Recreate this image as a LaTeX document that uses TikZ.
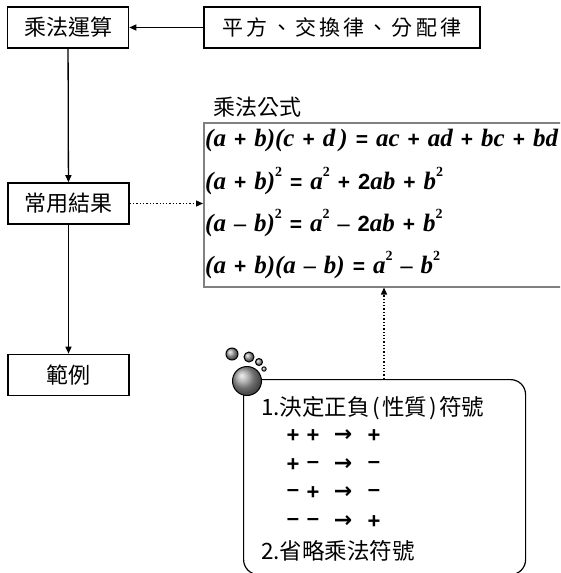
\documentclass[tikz,border=0pt]{standalone}
\usepackage{fontspec}
\setmainfont{Liberation Serif}
\newfontfamily\cjk{Noto Sans CJK TC}
\newfontfamily\cjkw[LetterSpace=15]{Noto Sans CJK TC}
\newfontfamily\tms{Liberation Serif}
\newfontfamily\ars{Liberation Sans}
\newfontfamily\dvs{DejaVu Sans}
\usetikzlibrary{arrows.meta}
\newcommand\mv[1]{{\fontsize{25}{28}\selectfont\tms\bfseries\itshape #1}}
\newcommand\mo[1]{\hspace{8pt}{\fontsize{21}{24}\selectfont\ars\bfseries #1}\hspace{8pt}}
\newcommand\mtwo{{\fontsize{22}{24}\selectfont\ars\bfseries 2}}
\newcommand\msq{\raisebox{12.5pt}{\fontsize{14}{14}\selectfont\tms\bfseries 2}}
\newcommand\mminus{\hspace{8pt}{\fontsize{24}{26}\selectfont\tms\bfseries –}\hspace{8pt}}
\newcommand\lp{\hspace{2.5pt}(\hspace{2pt}}
\newcommand\rp{\hspace{2pt})\hspace{2.5pt}}
\tikzset{
  box/.style={draw, line width=1.6pt, minimum width=121pt, minimum height=41pt, inner sep=0pt,
    font=\fontsize{22}{24}\selectfont\cjk},
  solidarrow/.style={line width=1.3pt, -{Triangle[length=7pt,width=6pt]}},
  dotarrow/.style={line width=1.3pt, dotted, -{Triangle[length=7pt,width=6pt]}},
  formula/.style={anchor=base west, inner sep=0pt},
  ctext/.style={anchor=west, inner sep=0pt, font=\fontsize{22.5}{24}\selectfont\cjk},
  sign/.style={inner sep=0pt, font=\fontsize{22}{24}\selectfont\ars\bfseries},
  arr/.style={inner sep=0pt, font=\fontsize{22}{24}\selectfont\dvs\bfseries},
  bubble/.style={circle, draw=black, line width=1pt, ball color=gray!75, inner sep=0pt},
}
\begin{document}
\begin{tikzpicture}[x=1pt,y=-1pt]
\useasboundingbox (0,0) rectangle (560,573);
\clip (0,0) rectangle (560,573);
% boxes
\node[box] (mul) at (68,27.5) {乘法運算};
\node[box, minimum width=276pt, font=\fontsize{21}{24}\selectfont\cjkw] (laws) at (342,27.5) {平方、交換律、分配律};
\node[box] (res) at (68.5,203.5) {常用結果};
\node[box] (ex) at (68.5,375) {範例};
\draw[solidarrow] (laws) -- (mul);
\draw[solidarrow] (mul) -- (res);
\draw[solidarrow] (res) -- (ex);
% formula box
\node[anchor=south west, inner sep=0pt, font=\fontsize{22}{24}\selectfont\cjk] (ftitle) at (213,118) {乘法公式};
\node[draw=gray, line width=1.5pt, anchor=north west, minimum width=420pt, minimum height=164pt, inner sep=0pt] (fbox) at (203,122) {};
\node[formula] (f1) at (205,146) {\mv{(a}\mo{+}\mv{b)(c}\mo{+}\mv{d\,)}\mo{=}\mv{ac}\mo{+}\mv{ad}\mo{+}\mv{bc}\mo{+}\mv{bd}};
\node[formula] (f2) at (205,189) {\mv{(a}\mo{+}\mv{b)}\msq\mo{=}\mv{a}\msq\mo{+}\mtwo\mv{ab}\mo{+}\mv{b}\msq};
\node[formula] (f3) at (205,231) {\mv{(a}\mminus\mv{b)}\msq\mo{=}\mv{a}\msq\mminus\mtwo\mv{ab}\mo{+}\mv{b}\msq};
\node[formula] (f4) at (205,273) {\mv{(a}\mo{+}\mv{b)(a}\mminus\mv{b)}\mo{=}\mv{a}\msq\mminus\mv{b}\msq};
\draw[dotarrow] (res.east) -- (res.east -| fbox.west);
% callout
\node[draw, line width=1.2pt, rounded corners=15pt, anchor=north west, minimum width=282pt, minimum height=195pt, inner sep=0pt] (callout) at (243,379) {};
\coordinate (fx) at (384,0);
\draw[dotarrow] (callout.north -| fx) -- (fbox.south -| fx);
\node[bubble, minimum size=29pt] (b0) at (247,381) {};
\node[bubble, minimum size=12pt] (b1) at (232,354) {};
\node[bubble, minimum size=10pt] (b2) at (249,357) {};
\node[bubble, minimum size=7pt] (b3) at (259,362) {};
\node[bubble, minimum size=4.5pt, line width=0.8pt] (b4) at (264,369) {};
\node[ctext] (t1) at (261,408) {1.決定正負\lp 性質\rp 符號};
\node[ctext] (t2) at (261,551) {2.省略乘法符號};
\foreach \y/\a/\b/\c [count=\i] in {436/+/+/+, 465/+/–/–, 493/–/+/–, 522/–/–/+}{
  \node[sign] (s\i a) at (293,\y) {\a};
  \node[sign] (s\i b) at (313,\y) {\b};
  \node[arr] (s\i c) at (343,\y) {→};
  \node[sign] (s\i d) at (374,\y) {\c};
}
\end{tikzpicture}
\end{document}
